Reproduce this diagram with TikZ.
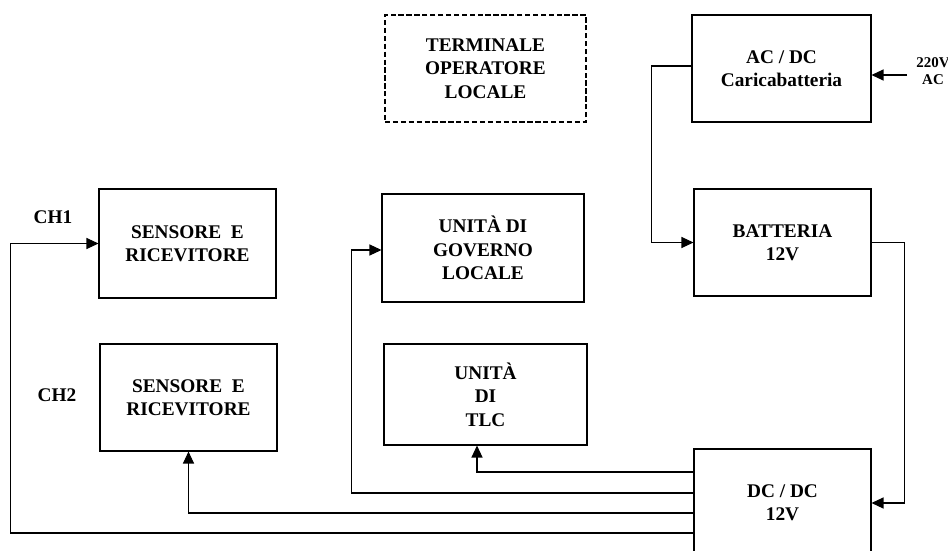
\documentclass[tikz,border=0pt]{standalone}
\usepackage{fontspec}
\setmainfont{Liberation Serif}
\usetikzlibrary{arrows.meta}

\begin{document}
\begin{tikzpicture}[x=0.02cm,y=-0.02cm,
    every node/.style={font=\fontsize{11}{13.3}\selectfont\bfseries},
    blk/.style={draw, line width=0.6pt, rectangle, align=center, inner sep=0pt},
    arr/.style={-{Triangle[length=0.24cm,width=0.22cm]}, line width=0.6pt}]
    \useasboundingbox (0,0) rectangle (948,551);
    % blocchi
    \node[blk, minimum width=3.54cm, minimum height=2.18cm] (sen1) at (187.5,243.5) {SENSORE~~E\\RICEVITORE};
    \node[blk, minimum width=3.54cm, minimum height=2.14cm] (sen2) at (188.5,397.5) {SENSORE~~E\\RICEVITORE};
    \node[blk, minimum width=4.04cm, minimum height=2.16cm] (gov) at (483,248) {UNITÀ DI\\GOVERNO\\LOCALE};
    \node[blk, minimum width=4.06cm, minimum height=2.02cm] (tlc) at (485.5,394.5) {UNITÀ\\DI\\TLC};
    \node[blk, dash pattern=on 3pt off 1.5pt, minimum width=4.02cm, minimum height=2.14cm] (term) at (485.5,68.5) {TERMINALE\\OPERATORE\\LOCALE};
    \node[blk, minimum width=3.58cm, minimum height=2.14cm] (acdc) at (781.5,68.5) {AC / DC\\Caricabatteria};
    \node[blk, minimum width=3.54cm, minimum height=2.14cm] (batt) at (782.5,242.5) {BATTERIA\\12V};
    \node[blk, minimum width=3.54cm, minimum height=2.16cm] (dcdc) at (782.5,503) {DC / DC\\12V};
    \node (ch1) at (53,217) {CH1};
    \node (ch2) at (57,395) {CH2};
    \node[font=\fontsize{8.5}{10}\selectfont\bfseries, align=center] (rete) at (933,71) {220V\\AC};
    \coordinate (acin) at (907,75);
    % collegamenti
    \draw[arr] (acin) -- (acdc.east |- acin);
    \draw[arr] ([yshift=0.05cm]acdc.west) -- ++(-40,0) |- (batt.west);
    \draw[arr] (batt.east) -- ++(33,0) |- (dcdc.east);
    \draw[arr] ([yshift=0.62cm]dcdc.west) -| ([xshift=-0.17cm]tlc.south);
    \draw[arr] ([yshift=0.2cm]dcdc.west) -| ([xshift=-0.6cm,yshift=-0.04cm]gov.west) -- ([yshift=-0.04cm]gov.west);
    \draw[arr] ([yshift=-0.2cm]dcdc.west) -| (sen2.south);
    \draw[arr] ([yshift=-0.6cm]dcdc.west) -| ([xshift=-1.76cm]sen1.west) -- (sen1.west);
\end{tikzpicture}
\end{document}
